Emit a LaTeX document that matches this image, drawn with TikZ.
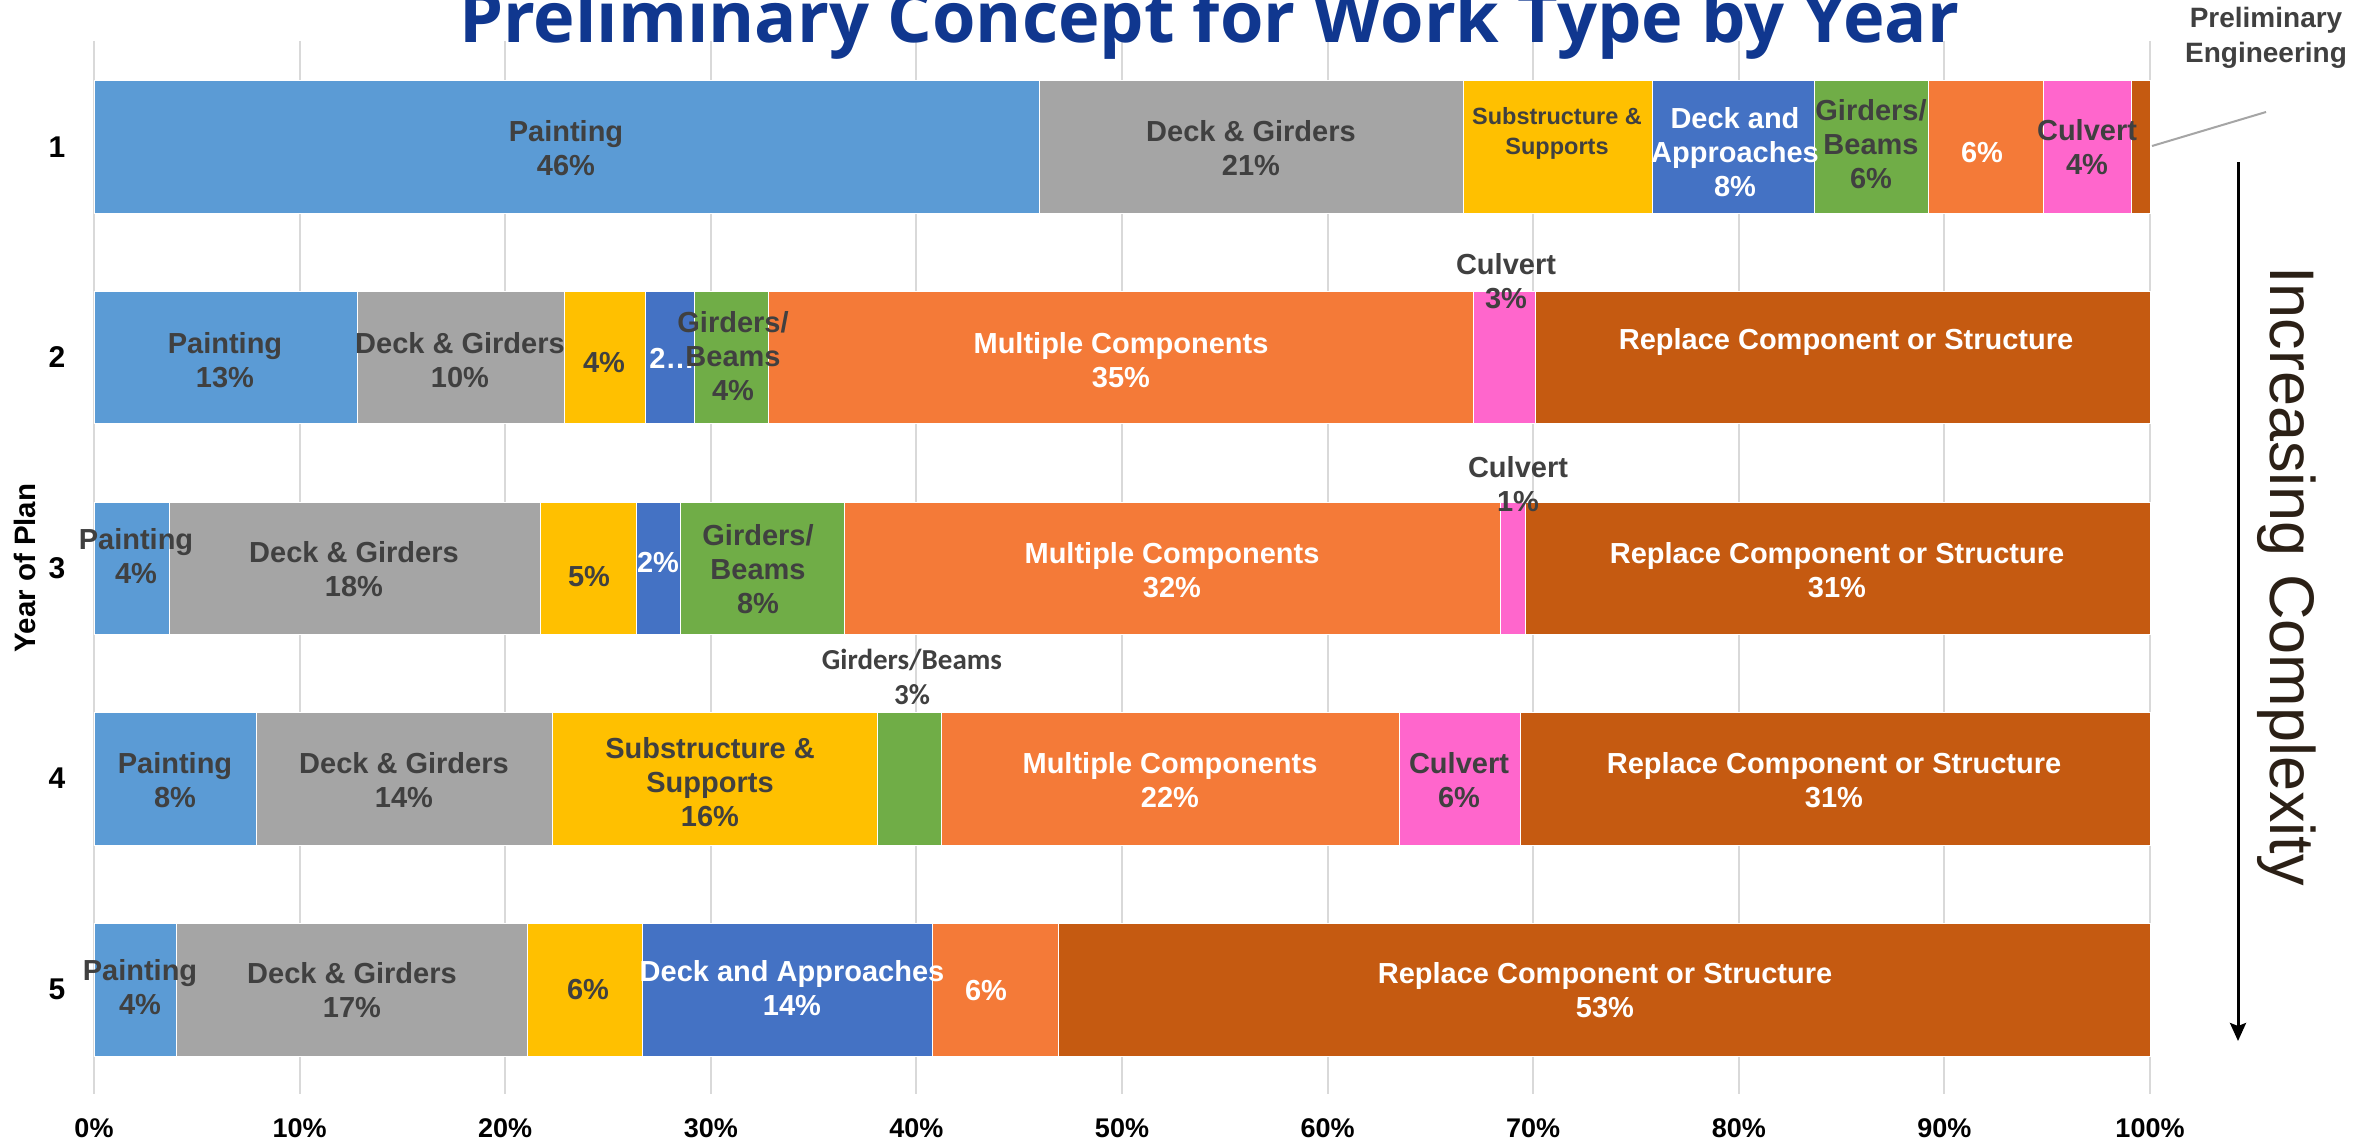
\documentclass[tikz,border=0pt]{standalone}
\usepackage{fontspec}
\setmainfont{Liberation Sans}
\newfontfamily\titlefont{Open Sans}
\newfontfamily\calfont{Carlito}
\usetikzlibrary{arrows.meta}
\definecolor{cPaint}{HTML}{5B9BD5}
\definecolor{cDeck}{HTML}{A5A5A5}
\definecolor{cSub}{HTML}{FFC000}
\definecolor{cDapp}{HTML}{4472C4}
\definecolor{cGird}{HTML}{70AD47}
\definecolor{cMulti}{HTML}{F47A38}
\definecolor{cCulv}{HTML}{FF66CC}
\definecolor{cRepl}{HTML}{C55A11}
\definecolor{cText}{HTML}{404040}
\definecolor{cGrid}{HTML}{D9D9D9}
\definecolor{cTitle}{HTML}{10378F}
\definecolor{cArrowText}{HTML}{2B2016}
\tikzset{
  lab/.style={align=center, inner sep=0pt, text=cText, font=\bfseries\fontsize{29}{34}\selectfont},
  wlab/.style={lab, text=white},
  slab/.style={lab, font=\bfseries\fontsize{23.5}{30}\selectfont},
  axlab/.style={inner sep=0pt, text=black, font=\bfseries\fontsize{27}{30}\selectfont},
  rowlab/.style={inner sep=0pt, text=black, font=\bfseries\fontsize{30}{32}\selectfont},
  seg/.style={draw=white, line width=0.8pt},
  grid/.style={draw=cGrid, line width=2pt},
}
\begin{document}
\begin{tikzpicture}[x=1pt,y=-1pt]
\useasboundingbox (0,0) rectangle (2377,1145);
\fill[white] (0,0) rectangle (2377,1145);
% grid lines and axis labels
\foreach \p in {0,10,...,100}{
  \draw[grid] ({94+20.56*\p},41) -- ({94+20.56*\p},1094);
  \node[axlab] (ax\p) at ({94+20.56*\p},1128) {\p\%};
}
% title
\node[anchor=base west, inner sep=0pt, text=cTitle, font=\titlefont\bfseries\fontsize{70.3}{76}\selectfont] (title) at (459,43) {Preliminary Concept for Work Type by Year};
% row 1
\foreach \a/\b/\c in {0/46/cPaint,46/66.6/cDeck,66.6/75.8/cSub,75.8/83.7/cDapp,83.7/89.2/cGird,89.2/94.8/cMulti,94.8/99.1/cCulv,99.1/100/cRepl}
  \fill[\c, seg] ({94+20.56*\a},80) rectangle ({94+20.56*\b},213);
% row 2
\foreach \a/\b/\c in {0/12.8/cPaint,12.8/22.9/cDeck,22.9/26.8/cSub,26.8/29.2/cDapp,29.2/32.8/cGird,32.8/67.1/cMulti,67.1/70.1/cCulv,70.1/100/cRepl}
  \fill[\c, seg] ({94+20.56*\a},291) rectangle ({94+20.56*\b},423);
% row 3
\foreach \a/\b/\c in {0/3.65/cPaint,3.65/21.7/cDeck,21.7/26.4/cSub,26.4/28.5/cDapp,28.5/36.5/cGird,36.5/68.4/cMulti,68.4/69.6/cCulv,69.6/100/cRepl}
  \fill[\c, seg] ({94+20.56*\a},502) rectangle ({94+20.56*\b},634);
% row 4
\foreach \a/\b/\c in {0/7.9/cPaint,7.9/22.3/cDeck,22.3/38.1/cSub,38.1/41.2/cGird,41.2/63.5/cMulti,63.5/69.4/cCulv,69.4/100/cRepl}
  \fill[\c, seg] ({94+20.56*\a},712) rectangle ({94+20.56*\b},845);
% row 5
\foreach \a/\b/\c in {0/4.0/cPaint,4.0/21.1/cDeck,21.1/26.65/cSub,26.65/40.8/cDapp,40.8/46.9/cMulti,46.9/100/cRepl}
  \fill[\c, seg] ({94+20.56*\a},923) rectangle ({94+20.56*\b},1056);
% row labels
\node[rowlab] (y1) at (57,147) {1};
\node[rowlab] (y2) at (57,357) {2};
\node[rowlab] (y3) at (57,568) {3};
\node[rowlab] (y4) at (57,778) {4};
\node[rowlab] (y5) at (57,989) {5};
\node[rowlab, rotate=90, anchor=base, font=\bfseries\fontsize{29.5}{32}\selectfont] (yaxis) at (35,568) {Year of Plan};
% row 1 labels
\node[lab] (l1a) at (566,148) {Painting\\46\%};
\node[lab] (l1b) at (1251,148) {Deck \& Girders\\21\%};
\node[slab] (l1c) at (1557,133) {Substructure \&\\Supports};
\node[wlab] (l1d) at (1735,152) {Deck and\\Approaches\\8\%};
\node[lab] (l1e) at (1871,144) {Girders/\\Beams\\6\%};
\node[wlab] (l1f) at (1982,153) {6\%};
\node[lab] (l1g) at (2087,147) {Culvert\\4\%};
\node[lab, font=\bfseries\fontsize{28}{35}\selectfont] (l1h) at (2266,38) {Preliminary\\Engineering};
\coordinate (pe1) at (2152,146);
\coordinate (pe2) at (2266,112);
\draw[draw=cDeck, line width=2pt] (pe1) -- (pe2);
% row 2 labels
\node[lab] (l2a) at (225,360) {Painting\\13\%};
\node[lab] (l2b) at (460,360) {Deck \& Girders\\10\%};
\node[lab] (l2c) at (604,363) {4\%};
\node[wlab] (l2d) at (672,358) {2\ldots};
\node[lab] (l2e) at (733,356) {Girders/\\Beams\\4\%};
\node[wlab] (l2f) at (1121,360) {Multiple Components\\35\%};
\node[lab] (l2g) at (1506,281) {Culvert\\3\%};
\node[wlab] (l2h) at (1846,342) {Replace Component or Structure};
% row 3 labels
\node[lab] (l3a) at (136,556) {Painting\\4\%};
\node[lab] (l3b) at (354,569) {Deck \& Girders\\18\%};
\node[lab] (l3c) at (589,577) {5\%};
\node[wlab] (l3d) at (658,562) {2\%};
\node[lab] (l3e) at (758,569) {Girders/\\Beams\\8\%};
\node[wlab] (l3f) at (1172,570) {Multiple Components\\32\%};
\node[lab] (l3g) at (1518,484) {Culvert\\1\%};
\node[wlab] (l3h) at (1837,570) {Replace Component or Structure\\31\%};
% row 4 labels
\node[lab, font=\calfont\bfseries\fontsize{29}{35}\selectfont] (l4x) at (912,677) {Girders/Beams\\3\%};
\node[lab] (l4a) at (175,780) {Painting\\8\%};
\node[lab] (l4b) at (404,780) {Deck \& Girders\\14\%};
\node[lab] (l4c) at (710,782) {Substructure \&\\Supports\\16\%};
\node[wlab] (l4f) at (1170,780) {Multiple Components\\22\%};
\node[lab] (l4g) at (1459,780) {Culvert\\6\%};
\node[wlab] (l4h) at (1834,780) {Replace Component or Structure\\31\%};
% row 5 labels
\node[lab] (l5a) at (140,987) {Painting\\4\%};
\node[lab] (l5b) at (352,990) {Deck \& Girders\\17\%};
\node[lab] (l5c) at (588,990) {6\%};
\node[wlab] (l5d) at (792,988) {Deck and Approaches\\14\%};
\node[wlab] (l5f) at (986,991) {6\%};
\node[wlab] (l5h) at (1605,990) {Replace Component or Structure\\53\%};
% complexity arrow
\coordinate (arrtop) at (2238,162);
\coordinate (arrbot) at (2238,1041);
\draw[line width=3pt, -{Stealth[length=18pt,width=16pt,inset=3pt]}] (arrtop) -- (arrbot);
\node[rotate=-90, anchor=base, inner sep=0pt, text=cArrowText, font=\fontsize{63}{70}\selectfont] (cplx) at (2270,576) {Increasing Complexity};
\end{tikzpicture}
\end{document}
